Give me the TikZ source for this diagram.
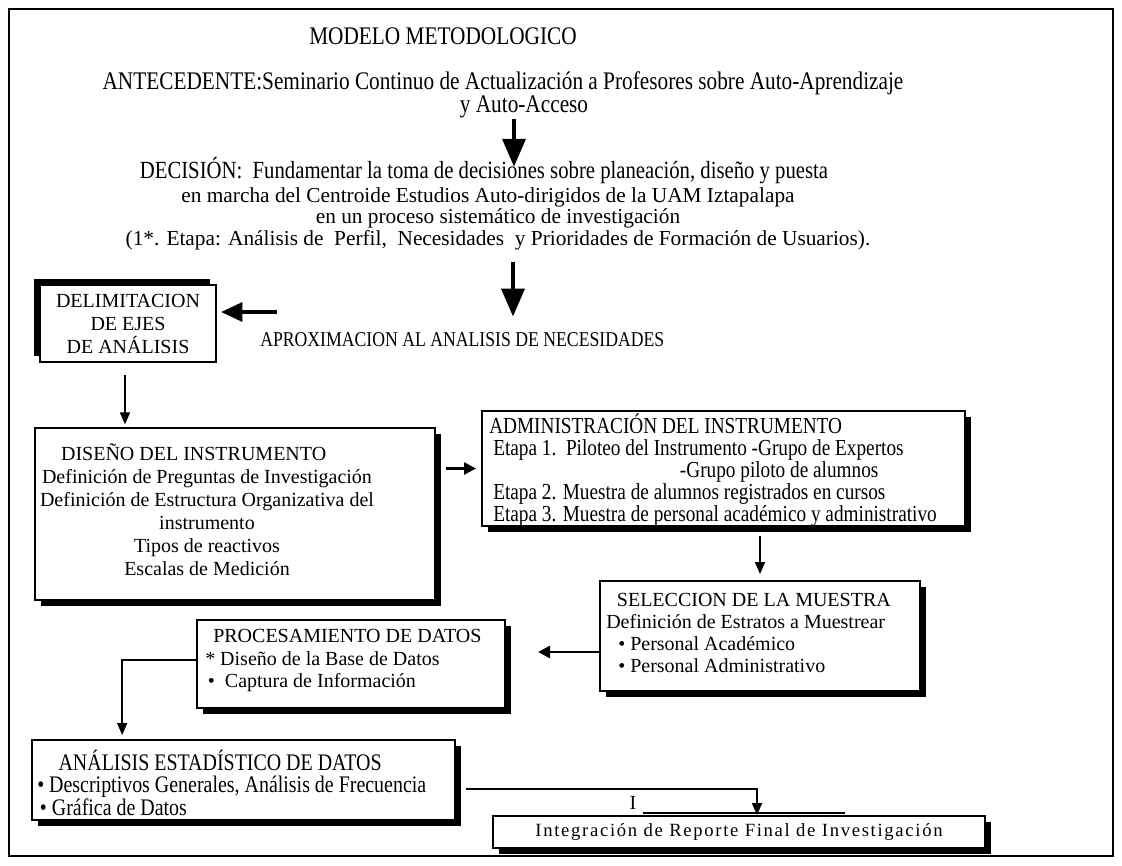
\documentclass[tikz,border=0pt]{standalone}
\usepackage{fontspec}
\setmainfont{Liberation Serif}
\newfontfamily\narrowfont[FakeStretch=0.84]{Liberation Serif}
\newfontfamily\spacedfont[LetterSpace=9]{Liberation Serif}
\newcommand\tightlines{\lineskiplimit=-10pt\relax}
\usetikzlibrary{arrows.meta,shadows}

\begin{document}
\begin{tikzpicture}[x=0.75pt,y=-0.75pt,
  toptxt/.style={font=\narrowfont\fontsize{19}{22}\selectfont, inner sep=0pt},
  midtxt/.style={font=\fontsize{16}{19}\selectfont, inner sep=0pt},
  boxtxt/.style={font=\fontsize{15}{17.25}\selectfont, inner sep=0pt},
  narrowtxt/.style={font=\narrowfont\fontsize{17.2}{16.5}\selectfont\tightlines, inner sep=0pt},
  frame/.style={draw, line width=1.5pt, fill=white, inner sep=0pt},
  shadowrb/.style={frame, drop shadow={shadow xshift=4.5pt, shadow yshift=-4.5pt, opacity=1, fill=black}},
  shadowlt/.style={frame, drop shadow={shadow xshift=-4.5pt, shadow yshift=4.5pt, opacity=1, fill=black}},
  bigarrow/.style={line width=3.5pt, -{Triangle[length=21pt, width=17pt]}},
  leftarrow/.style={line width=3pt, -{Triangle[length=16pt, width=14pt]}},
  medarrow/.style={line width=2pt, -{Triangle[length=9pt, width=9pt]}},
  thinarrow/.style={line width=1.3pt, -{Triangle[length=9pt, width=7.5pt]}}
]
\useasboundingbox (0,0) rectangle (1122,865);

%Shape: Rectangle [outer frame]
\draw[line width=1.2pt] (9,9) rectangle (1113,856);
\draw[line width=2.2pt] (9,9) -- (1113,9);

% Text Node
\node[toptxt] (title) at (443,36) {MODELO METODOLOGICO};
% Text Node
\node[toptxt] (ante) at (503,83) {ANTECEDENTE:Seminario Continuo de Actualización a Profesores sobre Auto-Aprendizaje};
% Text Node
\node[toptxt] (ante2) at (524,107) {y Auto-Acceso};
% Text Node
\node[toptxt, font=\narrowfont\fontsize{18.5}{22}\selectfont] (dec1) at (484,171) {DECISIÓN:\ \ Fundamentar la toma de decisiones sobre planeación, diseño y puesta};
% Text Node
\node[midtxt] (dec2) at (488,197) {en marcha del Centroide Estudios Auto-dirigidos de la UAM Iztapalapa};
% Text Node
\node[midtxt] (dec3) at (498,218) {en un proceso sistemático de investigación};
% Text Node
\node[midtxt] (dec4) at (498,240) {(1*. Etapa: Análisis de\ \ Perfil,\ \ Necesidades\ \ y Prioridades de Formación de Usuarios).};
% Text Node
\node[toptxt, font=\narrowfont\fontsize{15.8}{18}\selectfont, anchor=west] (aprox) at (260,340) {APROXIMACION AL ANALISIS DE NECESIDADES};

%Shape: Boxes
\node[shadowlt, minimum width=132pt, minimum height=57.75pt, align=center, font=\fontsize{15}{17.25}\selectfont] (delim) at (128,323.5) {DELIMITACION\\DE EJES\\DE ANÁLISIS};
\node[shadowrb, minimum width=300pt, minimum height=129pt] (diseno) at (235,514) {};
\node[shadowrb, minimum width=362.25pt, minimum height=86.25pt] (admin) at (723.5,468.5) {};
\node[shadowrb, minimum width=240pt, minimum height=82.5pt] (selec) at (760,636) {};
\node[shadowrb, minimum width=231pt, minimum height=66pt] (proc) at (351,664) {};
\node[shadowrb, minimum width=317.25pt, minimum height=60pt] (anal) at (243.5,780) {};
\node[shadowrb, minimum width=369pt, minimum height=24pt, font=\spacedfont\fontsize{14}{16}\selectfont] (integ) at (739,832) {Integración de Reporte Final de Investigación};

% Text Node
\node[boxtxt, align=center] (disenotxt) at (207,510) {DISEÑO DEL INSTRUMENTO\hspace*{20pt}\\Definición de Preguntas de Investigación\\Definición de Estructura Organizativa del\\instrumento\\Tipos de reactivos\\Escalas de Medición};
% Text Node
\node[narrowtxt, align=left, anchor=west] (admintxt) at (489,470) {ADMINISTRACIÓN DEL INSTRUMENTO\\\hspace*{3pt}Etapa 1.\ \ Piloteo del Instrumento -Grupo de Expertos\\\hspace*{143pt}-Grupo piloto de alumnos\\\hspace*{3pt}Etapa 2. Muestra de alumnos registrados en cursos\\\hspace*{3pt}Etapa 3. Muestra de personal académico y administrativo};
% Text Node
\node[boxtxt, font=\fontsize{15}{16.3}\selectfont, align=left, anchor=west] (selectxt) at (606,633) {\hspace*{8pt}SELECCION DE LA MUESTRA\\Definición de Estratos a Muestrear\\\hspace*{9pt}• Personal Académico\\\hspace*{9pt}• Personal Administrativo};
% Text Node
\node[boxtxt, font=\fontsize{15}{16.9}\selectfont, align=left, anchor=west] (proctxt) at (205,660.5) {\hspace*{6pt}PROCESAMIENTO DE DATOS\\{*} Diseño de la Base de Datos\\\hspace*{2pt}•\ \ Captura de Información};
% Text Node
\node[narrowtxt, font=\narrowfont\fontsize{17.8}{16.9}\selectfont\tightlines, align=left, anchor=west] (analtxt) at (37,782.5) {\hspace*{16pt}ANÁLISIS ESTADÍSTICO DE DATOS\\• Descriptivos Generales, Análisis de Frecuencia\\\hspace*{2pt}• Gráfica de Datos};
% Text Node
\node[boxtxt] (mark) at (633,803) {I};
%Straight Lines
\draw[line width=1pt] (643,813) -- (845,813);

%Arrows
\coordinate (a1) at (514,119);
\draw[bigarrow, shorten >=-7pt] (a1) -- (a1 |- dec1.north);
\coordinate (a2) at (513,262);
\draw[bigarrow, shorten >=12pt] (a2) -- (a2 |- aprox.north);
\coordinate (a3) at (277,312);
\draw[leftarrow, shorten >=3pt] (a3) -- (a3 -| delim.east);
\draw[thinarrow, shorten <=9pt, shorten >=2pt] ([xshift=-2.25pt]delim.south) -- ([xshift=-2.25pt]delim.south |- diseno.north);
\draw[medarrow, shorten <=7.5pt, shorten >=3.75pt] (diseno.east |- admin.west) -- (admin.west);
\draw[thinarrow, shorten <=7pt, shorten >=4.5pt] (admin.south -| selec.north) -- (selec.north);
\draw[medarrow, shorten >=24pt] ([yshift=-12pt]selec.west) -- ([yshift=-12pt]selec.west -| proc.east);
\draw[thinarrow, shorten >=3pt] ([yshift=3pt]proc.west) -| ([xshift=-91pt]anal.north);
\draw[thinarrow, shorten <=7.5pt] ([yshift=-6.75pt]anal.east) -| ([xshift=13.5pt]integ.north);

\end{tikzpicture}
\end{document}
